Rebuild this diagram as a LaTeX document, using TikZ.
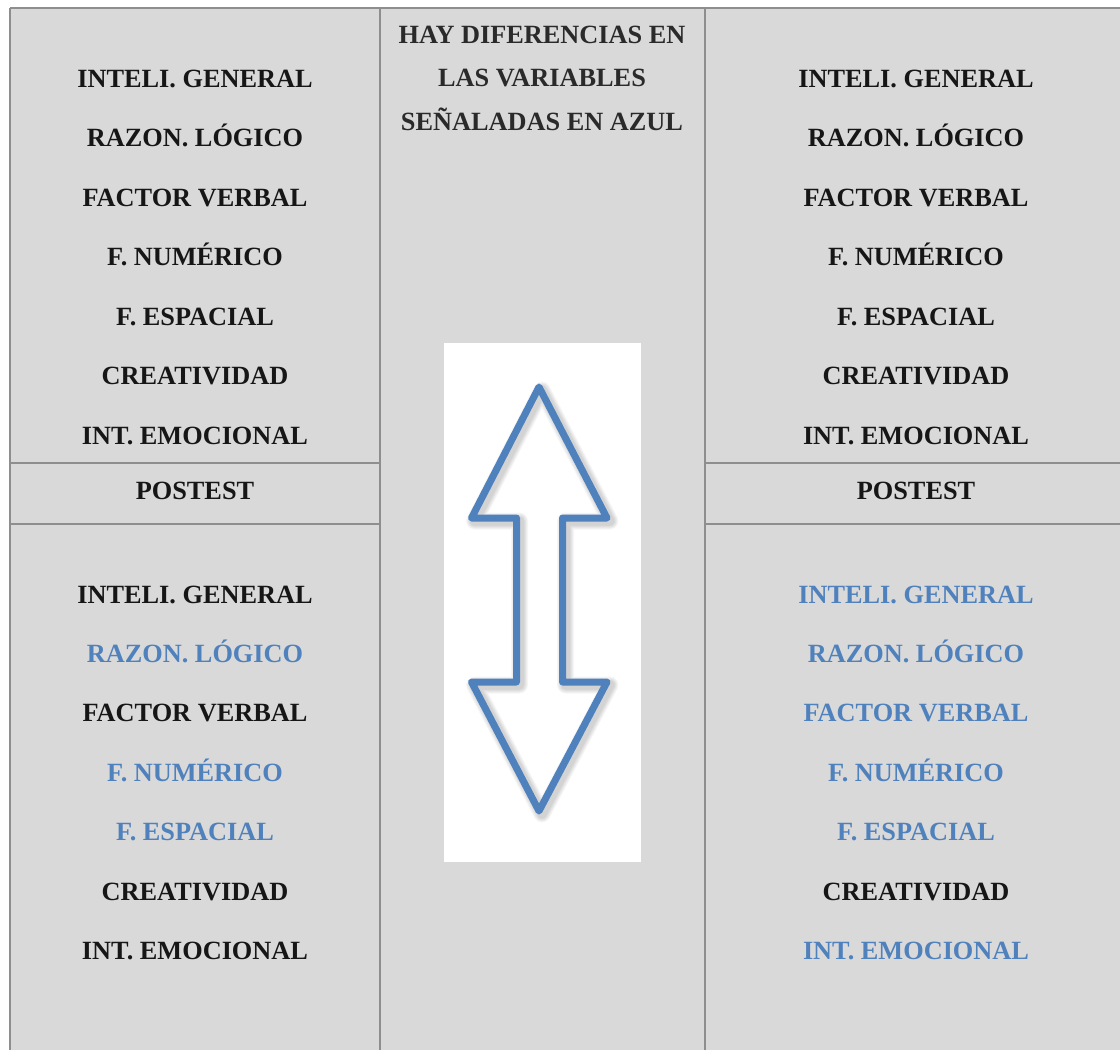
\documentclass[tikz,border=0pt]{standalone}
\usepackage{fontspec}
\setmainfont{Liberation Serif}
\definecolor{cellgray}{HTML}{D9D9D9}
\definecolor{rulegray}{HTML}{8E8E8E}
\definecolor{txtdark}{HTML}{161616}
\definecolor{headdark}{HTML}{2A2A2A}
\definecolor{accentblue}{HTML}{4F81BD}
\tikzset{
  rule/.style={draw=rulegray, line width=1.3pt},
  item/.style={font=\fontsize{26.3}{30}\selectfont\bfseries, text=txtdark, anchor=base, inner sep=0pt, yshift=-10pt},
  hl/.style={item, text=accentblue},
  arrowshade/.style={draw=black, line join=round, opacity=0.035}
}
\begin{document}
\begin{tikzpicture}[x=1pt, y=-1pt]
\useasboundingbox (0,0) rectangle (1120,1050);
% table background
\fill[cellgray] (10,8) rectangle (1120,1050);
% table rules
\draw[rule] (10,8) -- (1120,8);
\draw[rule] (10,8) -- (10,1050);
\draw[rule] (380,8) -- (380,1050);
\draw[rule] (705,8) -- (705,1050);
\draw[rule] (10,463) -- (380,463);
\draw[rule] (10,524) -- (380,524);
\draw[rule] (705,463) -- (1120,463);
\draw[rule] (705,524) -- (1120,524);

% left column, upper block
\node[item] (l1) at (195,77)  {INTELI. GENERAL};
\node[item] (l2) at (195,136) {RAZON. LÓGICO};
\node[item] (l3) at (195,196) {FACTOR VERBAL};
\node[item] (l4) at (195,255) {F. NUMÉRICO};
\node[item] (l5) at (195,315) {F. ESPACIAL};
\node[item] (l6) at (195,374) {CREATIVIDAD};
\node[item] (l7) at (195,434) {INT. EMOCIONAL};
\node[item] (lp) at (195,489) {POSTEST};
% left column, lower block
\node[item] (lb1) at (195,593) {INTELI. GENERAL};
\node[hl]   (lb2) at (195,652) {RAZON. LÓGICO};
\node[item] (lb3) at (195,711) {FACTOR VERBAL};
\node[hl]   (lb4) at (195,771) {F. NUMÉRICO};
\node[hl]   (lb5) at (195,830) {F. ESPACIAL};
\node[item] (lb6) at (195,890) {CREATIVIDAD};
\node[item] (lb7) at (195,949) {INT. EMOCIONAL};

% right column, upper block
\node[item] (r1) at (916,77)  {INTELI. GENERAL};
\node[item] (r2) at (916,136) {RAZON. LÓGICO};
\node[item] (r3) at (916,196) {FACTOR VERBAL};
\node[item] (r4) at (916,255) {F. NUMÉRICO};
\node[item] (r5) at (916,315) {F. ESPACIAL};
\node[item] (r6) at (916,374) {CREATIVIDAD};
\node[item] (r7) at (916,434) {INT. EMOCIONAL};
\node[item] (rp) at (916,489) {POSTEST};
% right column, lower block
\node[hl]   (rb1) at (916,593) {INTELI. GENERAL};
\node[hl]   (rb2) at (916,652) {RAZON. LÓGICO};
\node[hl]   (rb3) at (916,711) {FACTOR VERBAL};
\node[hl]   (rb4) at (916,771) {F. NUMÉRICO};
\node[hl]   (rb5) at (916,830) {F. ESPACIAL};
\node[item] (rb6) at (916,890) {CREATIVIDAD};
\node[hl]   (rb7) at (916,949) {INT. EMOCIONAL};

% middle column heading
\node[item, text=headdark] (h1) at (542,33)  {HAY DIFERENCIAS EN};
\node[item, text=headdark] (h2) at (542,76)  {LAS VARIABLES};
\node[item, text=headdark] (h3) at (542,120) {SEÑALADAS EN AZUL};

% double-headed arrow on a white panel
\fill[white] (444,343) rectangle (641,862);
\def\arrowpath{(539,387) -- (607,518) -- (562.5,518) -- (562.5,682) -- (607,682)
  -- (539,811) -- (471.5,682) -- (516.5,682) -- (516.5,518) -- (471.5,518) -- cycle}
% soft shadow of the outline
\foreach \w in {17,15,13,11,9} {
  \draw[arrowshade, line width=\w pt, shift={(3,3)}] \arrowpath;
}
\draw[draw=accentblue, line width=7pt, line join=round] \arrowpath;
\end{tikzpicture}
\end{document}
